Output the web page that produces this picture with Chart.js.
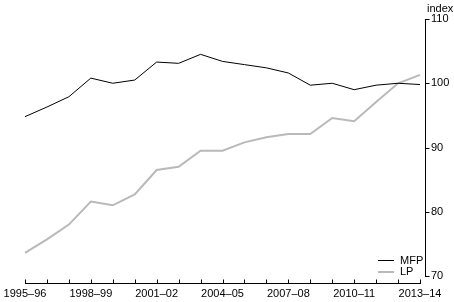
<!DOCTYPE html>
<html>
<head>
<meta charset="utf-8">
<script src="https://cdn.jsdelivr.net/npm/chart.js@4.4.1/dist/chart.umd.min.js"></script>
<style>
  html, body { margin: 0; padding: 0; background: #fff; }
  #wrap { width: 454px; height: 302px; }
</style>
</head>
<body>
<div id="wrap"><canvas id="chart"></canvas></div>
<script>
const years = [
  "1995–96", "1996–97", "1997–98", "1998–99", "1999–00", "2000–01",
  "2001–02", "2002–03", "2003–04", "2004–05", "2005–06", "2006–07",
  "2007–08", "2008–09", "2009–10", "2010–11", "2011–12", "2012–13", "2013–14"
];
const mfp = [94.8, 96.3, 97.9, 100.8, 100.0, 100.5, 103.3, 103.1, 104.5, 103.4,
  102.9, 102.4, 101.6, 99.7, 100.0, 99.0, 99.7, 100.0, 99.8];
const lp = [73.6, 75.7, 78.0, 81.6, 81.0, 82.7, 86.5, 87.0, 89.5, 89.5,
  90.8, 91.6, 92.1, 92.1, 94.6, 94.1, 97.1, 100.0, 101.3];
const yTicks = [70, 80, 90, 100, 110];

const MFP_COLOR = "#000000";
const LP_COLOR = "#b9b9b9";
const FONT = "'Liberation Sans', Arial, sans-serif";

// axes, unit label and legend drawn by hand to match the original layout
const decorPlugin = {
  id: "decor",
  afterDraw(chart) {
    const ctx = chart.ctx;
    const xs = chart.scales.x;
    const ys = chart.scales.y;
    const area = chart.chartArea;
    ctx.save();
    ctx.strokeStyle = "#000";
    ctx.lineWidth = 1;
    ctx.beginPath();
    const ax = Math.round(area.bottom + 7) + 0.5;
    ctx.moveTo(xs.getPixelForValue(0), ax);
    ctx.lineTo(xs.getPixelForValue(years.length - 1) + 1, ax);
    years.forEach((_, i) => {
      const px = Math.round(xs.getPixelForValue(i)) + 0.5;
      ctx.moveTo(px, ax);
      ctx.lineTo(px, ax - 4);
    });
    const yx = Math.round(area.right + 5) + 0.5;
    ctx.moveTo(yx, Math.round(ys.getPixelForValue(110)));
    ctx.lineTo(yx, Math.round(ys.getPixelForValue(70)) + 1);
    yTicks.forEach((v) => {
      const py = Math.round(ys.getPixelForValue(v)) + 0.5;
      ctx.moveTo(yx, py);
      ctx.lineTo(yx + 4, py);
    });
    ctx.stroke();

    ctx.fillStyle = "#000";
    ctx.font = "11px " + FONT;
    ctx.textBaseline = "middle";
    ctx.textAlign = "left";
    ctx.fillText("index", 427, 9);

    // legend
    const items = [
      { label: "MFP", color: MFP_COLOR, width: 1, y: 260.5 },
      { label: "LP", color: LP_COLOR, width: 2, y: 272 },
    ];
    items.forEach((it) => {
      ctx.strokeStyle = it.color;
      ctx.lineWidth = it.width;
      ctx.beginPath();
      ctx.moveTo(378, it.y);
      ctx.lineTo(394, it.y);
      ctx.stroke();
      ctx.fillText(it.label, 400, Math.round(it.y));
    });
    ctx.restore();
  },
};

new Chart(document.getElementById("chart"), {
  type: "line",
  data: {
    labels: years,
    datasets: [
      {
        label: "MFP",
        data: mfp,
        borderColor: MFP_COLOR,
        borderWidth: 1,
        pointRadius: 0,
        tension: 0,
      },
      {
        label: "LP",
        data: lp,
        borderColor: LP_COLOR,
        borderWidth: 2,
        pointRadius: 0,
        tension: 0,
      },
    ],
  },
  options: {
    responsive: true,
    maintainAspectRatio: false,
    animation: false,
    layout: { padding: { left: 25, top: 19, right: 0, bottom: 0 } },
    plugins: { legend: { display: false }, tooltip: { enabled: false } },
    scales: {
      x: {
        grid: { display: false, drawTicks: false },
        border: { display: false },
        afterFit: (s) => {
          s.height = 26;
          s.paddingLeft = 0;
          s.paddingRight = 0;
        },
        ticks: {
          autoSkip: false,
          maxRotation: 0,
          padding: 11,
          color: "#000",
          font: { family: FONT, size: 11 },
          callback: (v, i) => (i % 3 === 0 ? years[i] : ""),
        },
      },
      y: {
        position: "right",
        min: 70,
        max: 110,
        grid: { display: false, drawTicks: false },
        border: { display: false },
        afterFit: (s) => {
          s.width = 34;
          s.paddingTop = 0;
          s.paddingBottom = 0;
        },
        afterBuildTicks: (s) => { s.ticks = yTicks.map((v) => ({ value: v })); },
        ticks: {
          padding: 11,
          color: "#000",
          font: { family: FONT, size: 11 },
        },
      },
    },
  },
  plugins: [decorPlugin],
});
</script>
</body>
</html>
